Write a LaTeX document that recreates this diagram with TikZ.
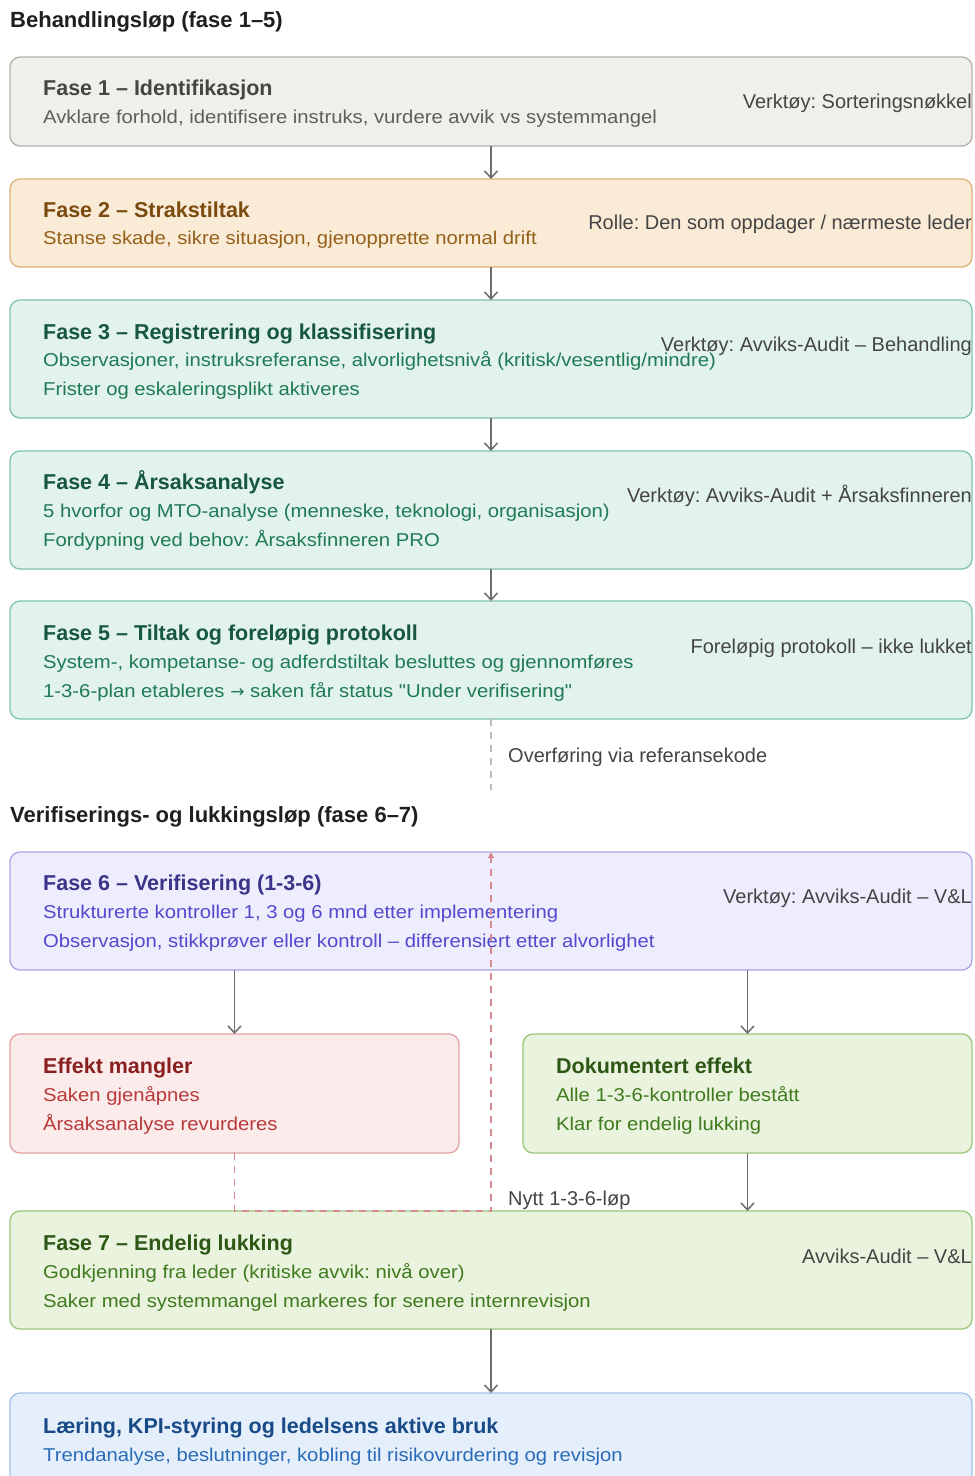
\documentclass[tikz,border=0pt]{standalone}
\usepackage{fontspec}
\setmainfont{Liberation Sans}
\newfontfamily\subfont{Liberation Sans}[FakeStretch=1.09]
\newfontfamily\djv{DejaVu Sans}
\usetikzlibrary{arrows.meta}
\definecolor{gA}{HTML}{F1EFEA}\definecolor{gB}{HTML}{B3B1AC}\definecolor{gT}{HTML}{454545}\definecolor{gS}{HTML}{5E5E5E}
\definecolor{oA}{HTML}{FAEBD7}\definecolor{oB}{HTML}{DDB27C}\definecolor{oT}{HTML}{7A4B0E}\definecolor{oS}{HTML}{95611A}
\definecolor{tA}{HTML}{E1F3EC}\definecolor{tB}{HTML}{80C3A8}\definecolor{tT}{HTML}{17573F}\definecolor{tS}{HTML}{1F7A55}
\definecolor{pA}{HTML}{EEEDFD}\definecolor{pB}{HTML}{ABA5E8}\definecolor{pT}{HTML}{3C3489}\definecolor{pS}{HTML}{5349CC}
\definecolor{rA}{HTML}{FCEBEB}\definecolor{rB}{HTML}{E2A2A2}\definecolor{rT}{HTML}{8A1F1F}\definecolor{rS}{HTML}{B83A3A}
\definecolor{lA}{HTML}{EAF3DE}\definecolor{lB}{HTML}{9CC57A}\definecolor{lT}{HTML}{2D5714}\definecolor{lS}{HTML}{3F7A1E}
\definecolor{bA}{HTML}{E5EFFB}\definecolor{bB}{HTML}{9FC0E8}\definecolor{bT}{HTML}{174A87}\definecolor{bS}{HTML}{2A6BB8}
\definecolor{lbl}{HTML}{444444}\definecolor{arrc}{HTML}{6E6E6E}\definecolor{redd}{HTML}{D98A90}\definecolor{grd}{HTML}{BDBDBD}
\frenchspacing
\begin{document}
\begin{tikzpicture}[x=1pt,y=-1pt,
  box/.style={draw, rounded corners=10pt, line width=1.3pt, anchor=north west, inner sep=0pt, outer sep=0pt, minimum width=962pt},
  halfbox/.style={draw, rounded corners=10pt, line width=1.3pt, anchor=north west, inner sep=0pt, outer sep=0pt, minimum width=449pt, minimum height=119pt},
  ttl/.style={anchor=base west, inner sep=0pt, font=\fontsize{21.5}{24}\selectfont\bfseries},
  sub/.style={anchor=base west, inner sep=0pt, font=\subfont\fontsize{18.6}{22}\selectfont},
  rlab/.style={anchor=base east, inner sep=0pt, font=\fontsize{20}{23}\selectfont, text=lbl},
  hdr/.style={anchor=base west, inner sep=0pt, font=\fontsize{22}{25}\selectfont\bfseries, text=black!88},
  note/.style={anchor=base west, inner sep=0pt, font=\fontsize{20}{23}\selectfont, text=lbl},
  arr/.style={draw=arrc, line width=1.5pt, -{Straight Barb[length=7pt,width=13pt]}},
  reddash/.style={draw=redd, line width=1.3pt, dash pattern=on 7pt off 6pt, -{Triangle[length=6pt,width=6pt]}},
  graydash/.style={draw=grd, line width=1.2pt, dash pattern=on 7pt off 6pt}]
\useasboundingbox (0,0) rectangle (975,1476);
\clip (0,0) rectangle (975,1476);
\fill[white] (0,0) rectangle (975,1476);

% headers
\node[hdr] (h1) at (10,27) {Behandlingsløp (fase 1–5)};
\node[hdr] (h2) at (10,822) {Verifiserings- og lukkingsløp (fase 6–7)};

% boxes
\node[box, fill=gA, draw=gB, minimum height=89pt] (f1) at (10,57) {};
\node[box, fill=oA, draw=oB, minimum height=88pt] (f2) at (10,179) {};
\node[box, fill=tA, draw=tB, minimum height=118pt] (f3) at (10,300) {};
\node[box, fill=tA, draw=tB, minimum height=118pt] (f4) at (10,451) {};
\node[box, fill=tA, draw=tB, minimum height=118pt] (f5) at (10,601) {};
\node[box, fill=pA, draw=pB, minimum height=118pt] (f6) at (10,852) {};
\node[halfbox, fill=rA, draw=rB] (eff) at (10,1034) {};
\node[halfbox, fill=lA, draw=lB] (dok) at (523,1034) {};
\node[box, fill=lA, draw=lB, minimum height=118pt] (f7) at (10,1211) {};
\node[box, fill=bA, draw=bB, minimum height=118pt] (lar) at (10,1393) {};

% texts
\node[ttl, text=gT] (f1t) at (43,95) {Fase 1 – Identifikasjon};
\node[sub, text=gS] (f1s) at (43,123.5) {Avklare forhold, identifisere instruks, vurdere avvik vs systemmangel};
\node[rlab] (f1r) at (972,108) {Verktøy: Sorteringsnøkkel};

\node[ttl, text=oT] (f2t) at (43,217) {Fase 2 – Strakstiltak};
\node[sub, text=oS] (f2s) at (43,244.5) {Stanse skade, sikre situasjon, gjenopprette normal drift};
\node[rlab] (f2r) at (972,229) {Rolle: Den som oppdager / nærmeste leder};

\node[ttl, text=tT] (f3t) at (43,339) {Fase 3 – Registrering og klassifisering};
\node[sub, text=tS] (f3s) at (43,366.5) {Observasjoner, instruksreferanse, alvorlighetsnivå (kritisk/vesentlig/mindre)};
\node[sub, text=tS] (f3u) at (43,395.5) {Frister og eskaleringsplikt aktiveres};
\node[rlab] (f3r) at (972,351) {Verktøy: Avviks-Audit – Behandling};

\node[ttl, text=tT] (f4t) at (43,489) {Fase 4 – Årsaksanalyse};
\node[sub, text=tS] (f4s) at (43,517.5) {5 hvorfor og MTO-analyse (menneske, teknologi, organisasjon)};
\node[sub, text=tS] (f4u) at (43,546.5) {Fordypning ved behov: Årsaksfinneren PRO};
\node[rlab] (f4r) at (972,502) {Verktøy: Avviks-Audit + Årsaksfinneren};

\node[ttl, text=tT] (f5t) at (43,640) {Fase 5 – Tiltak og foreløpig protokoll};
\node[sub, text=tS] (f5s) at (43,668.5) {System-, kompetanse- og adferdstiltak besluttes og gjennomføres};
\node[sub, text=tS] (f5u) at (43,697.5) {1-3-6-plan etableres {\djv\fontsize{17}{20}\selectfont →} saken får status {\char34}Under verifisering{\char34}};
\node[rlab] (f5r) at (972,653) {Foreløpig protokoll – ikke lukket};

\node[ttl, text=pT] (f6t) at (43,890) {Fase 6 – Verifisering (1-3-6)};
\node[sub, text=pS] (f6s) at (43,918.5) {Strukturerte kontroller 1, 3 og 6 mnd etter implementering};
\node[sub, text=pS] (f6u) at (43,947.5) {Observasjon, stikkprøver eller kontroll – differensiert etter alvorlighet};
\node[rlab] (f6r) at (972,903) {Verktøy: Avviks-Audit – V\&L};

\node[ttl, text=rT] (efft) at (43,1073) {Effekt mangler};
\node[sub, text=rS] (effs) at (43,1101.5) {Saken gjenåpnes};
\node[sub, text=rS] (effu) at (43,1130.5) {Årsaksanalyse revurderes};

\node[ttl, text=lT] (dokt) at (556,1073) {Dokumentert effekt};
\node[sub, text=lS] (doks) at (556,1101.5) {Alle 1-3-6-kontroller bestått};
\node[sub, text=lS] (doku) at (556,1130.5) {Klar for endelig lukking};

\node[ttl, text=lT] (f7t) at (43,1250) {Fase 7 – Endelig lukking};
\node[sub, text=lS] (f7s) at (43,1278.5) {Godkjenning fra leder (kritiske avvik: nivå over)};
\node[sub, text=lS] (f7u) at (43,1307.5) {Saker med systemmangel markeres for senere internrevisjon};
\node[rlab] (f7r) at (972,1263) {Avviks-Audit – V\&L};

\node[ttl, text=bT] (lart) at (43,1433) {Læring, KPI-styring og ledelsens aktive bruk};
\node[sub, text=bS] (lars) at (43,1461.5) {Trendanalyse, beslutninger, kobling til risikovurdering og revisjon};

% connectors
\draw[arr] (f1.south) -- (f2.north);
\draw[arr] (f2.south) -- (f3.north);
\draw[arr] (f3.south) -- (f4.north);
\draw[arr] (f4.south) -- (f5.north);
\coordinate (ovend) at (491,790);
\draw[graydash] (f5.south) -- (ovend);
\node[note] (ovl) at (508,762) {Overføring via referansekode};
\draw[arr] (eff.north |- f6.south) -- (eff.north);
\draw[arr] (dok.north |- f6.south) -- (dok.north);
\draw[arr] (dok.south) -- (dok.south |- f7.north);
\draw[arr] (f7.south) -- (lar.north);
\draw[reddash] (eff.south) -- (eff.south |- f7.north) -- (f7.north) -- (f6.north);
\node[note] (nyl) at (508,1205) {Nytt 1-3-6-løp};
\end{tikzpicture}
\end{document}
